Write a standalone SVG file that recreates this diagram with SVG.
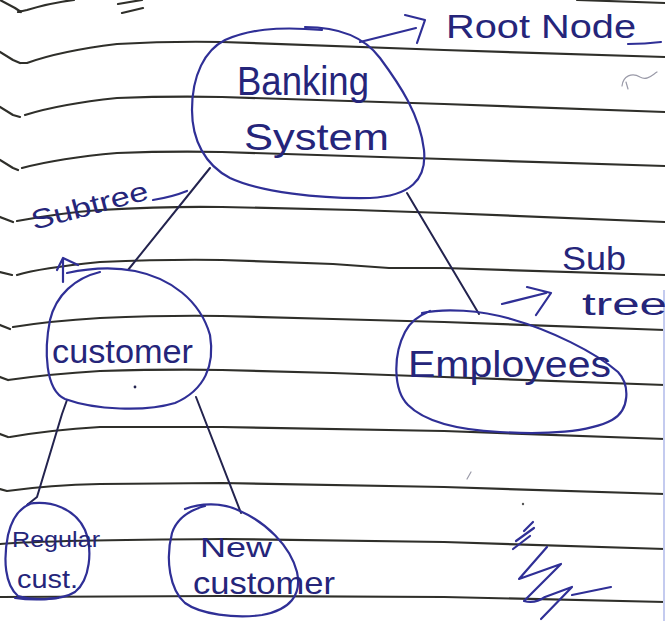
<svg xmlns="http://www.w3.org/2000/svg" width="665" height="621" viewBox="0 0 665 621">
<style>
.rule{fill:none;stroke:#2f2f2a;stroke-width:2.2;stroke-linecap:round;stroke-linejoin:round}
.ink{fill:none;stroke:#2f2f96;stroke-width:2.2;stroke-linecap:round;stroke-linejoin:round}
.con{fill:none;stroke:#23234e;stroke-width:2;stroke-linecap:round;stroke-linejoin:round}
.faint{fill:none;stroke:#9a9aa8;stroke-width:1.2;stroke-linecap:round}
.txt{fill:#25257a;font-family:"Liberation Sans","DejaVu Sans",sans-serif;lengthAdjust:spacingAndGlyphs}
</style>
<rect width="665" height="621" fill="#ffffff"/>
<g id="paper">
<path class="rule" d="M0 0 L15 8 L21 12 M18 12 L27 10 Q50 3 74 0 M577 0 L665 3"/>
<path class="rule" d="M0 52 L13 60 L20 63 M21 63 L27 63 Q60 51 117 44 Q170 41 222 42 L444 50 L665 57"/>
<path class="rule" d="M0 107 L13 115 L20 117 M25 115 Q60 104 117 98 Q170 96 222 97 L444 104 L665 112"/>
<path class="rule" d="M0 160 L13 168 L18 170 M22 168 Q60 158 117 153 Q170 151 222 152 L444 159 L665 166"/>
<path class="rule" d="M0 217 L13 222 M17 221 Q60 213 100 210 Q170 206 222 207 L355 210 L444 213 L665 222"/>
<path class="rule" d="M0 272 L12 275 M17 275 Q40 268 100 262 Q170 259 222 260 L333 264 L389 268 L444 268 L665 275"/>
<path class="rule" d="M0 325 L10 329 M13 327 Q50 321 100 318 Q170 315 222 316 L333 319 L444 322 L665 330"/>
<path class="rule" d="M0 377 L8 380 M8 380 Q50 374 100 371 Q170 369 222 370 L333 373 L444 377 L665 385"/>
<path class="rule" d="M0 434 L8 437 M10 437 Q50 430 100 427 L222 427 L444 431 L665 439"/>
<path class="rule" d="M0 489 L7 491 M7 491 Q50 485 100 484 L222 483 L444 487 L665 494"/>
<path class="rule" d="M0 544 Q50 540 222 539 L444 542 L665 549"/>
<path class="rule" d="M0 597 L222 596 L444 597 L665 602"/>
<path class="rule" d="M118 4 L142 0 M122 13 L143 8"/>
<path d="M664 290 L664 621" stroke="#c4cbef" stroke-width="2" fill="none"/>
<path class="faint" d="M622 86 C623 76 632 72 640 77 C647 81 652 75 657 72 M626 82 L628 89"/>
<circle cx="523" cy="504" r="1.2" fill="#555"/>
<path class="faint" d="M467 479 L471 472"/>
</g>
<g id="connectors">
<path class="con" d="M210 168 L128 270"/>
<path class="con" d="M407 193 L479 314"/>
<path class="con" d="M67 400 L62 414 Q48 460 37 497 L27 505"/>
<path class="con" d="M196 397 L241 513"/>
</g>
<g id="node-banking">
<path class="ink" d="M305 27 C340 27 365 38 380 58 C400 85 420 115 424 150 C427 180 410 196 370 198 C320 199 260 192 230 178 C205 165 192 140 192 110 C192 75 205 50 225 40 C248 30 275 26 322 30"/>
<text class="txt" x="237" y="95" font-size="40" textLength="132" lengthAdjust="spacingAndGlyphs">Banking</text>
<text class="txt" x="244" y="150" font-size="36" textLength="145" lengthAdjust="spacingAndGlyphs">System</text>
</g>
<g id="label-root">
<path class="ink" d="M360 42 L416 28 M405 15 L425 20 L417 43"/>
<text class="txt" x="446" y="38" font-size="33" textLength="190" lengthAdjust="spacingAndGlyphs">Root Node</text>
<path class="ink" d="M628 44 Q645 44 661 42"/>
</g>
<g id="label-subtree-left">
<text class="txt" x="0" y="0" font-size="27" textLength="120" lengthAdjust="spacingAndGlyphs" transform="translate(34 230) rotate(-15)">Subtree</text>
<path class="ink" d="M153 200 Q172 197 187 191"/>
<path class="ink" d="M63 282 L63 260 M57 270 L63 258 L78 265"/>
</g>
<g id="node-customer">
<path class="ink" d="M67 273 C90 268 115 267 135 271 C170 278 200 300 210 335 C215 365 205 390 175 403 C145 412 95 410 65 399 C45 390 44 350 50 320 C56 295 75 278 100 272"/>
<text class="txt" x="52" y="363" font-size="34" textLength="141" lengthAdjust="spacingAndGlyphs">customer</text>
<circle cx="135" cy="387" r="1.4" fill="#23234e"/>
</g>
<g id="node-employees">
<path class="ink" d="M422 313 C445 308 480 310 511 319 C550 330 595 352 618 372 C630 385 630 410 612 420 C590 432 545 435 500 432 C460 430 425 422 408 405 C393 390 393 355 405 332 C410 322 420 315 430 311"/>
<text class="txt" x="408" y="377" font-size="36" textLength="203" lengthAdjust="spacingAndGlyphs">Employees</text>
</g>
<g id="label-subtree-right">
<text class="txt" x="562" y="270" font-size="34" textLength="64" lengthAdjust="spacingAndGlyphs">Sub</text>
<text class="txt" x="582" y="315" font-size="31" textLength="85" lengthAdjust="spacingAndGlyphs">tree</text>
<path class="ink" d="M502 304 L546 293 M527 287 L551 293 L536 315"/>
</g>
<g id="node-regular">
<path class="ink" d="M28 504 C50 500 75 508 85 530 C93 550 90 580 75 592 C62 600 35 601 18 596 C5 585 3 560 8 535 C12 518 20 508 30 504"/>
<path class="ink" d="M15 598 Q35 601 58 598" stroke-width="3"/>
<text class="txt" x="12" y="547" font-size="22" textLength="88" lengthAdjust="spacingAndGlyphs">Regular</text>
<text class="txt" x="17" y="588" font-size="26" textLength="61" lengthAdjust="spacingAndGlyphs">cust.</text>
</g>
<g id="node-new">
<path class="ink" d="M185 509 C200 503 222 502 240 511 C265 522 290 545 297 572 C302 595 290 610 262 615 C235 619 200 614 185 603 C170 590 165 560 172 533 C177 518 190 510 205 506"/>
<text class="txt" x="200" y="557" font-size="28" textLength="72" lengthAdjust="spacingAndGlyphs">New</text>
<text class="txt" x="193" y="594" font-size="32" textLength="142" lengthAdjust="spacingAndGlyphs">customer</text>
</g>
<g id="scribble">
<path class="ink" d="M547 547 L519 579 L561 564 L524 601 Q535 604 545 597 L572 587 L541 619 M572 595 L611 587"/>
<path class="ink" stroke-width="1.5" d="M513 549 L530 536 M516 541 L534 528 M524 531 L533 522"/>
</g>
</svg>
